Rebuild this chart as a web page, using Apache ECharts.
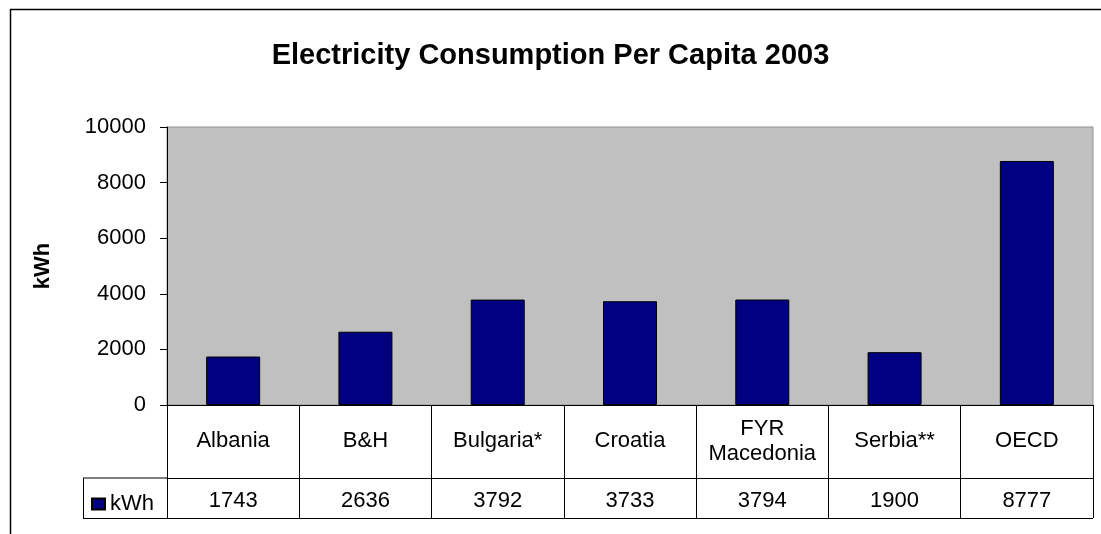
<!DOCTYPE html>
<html>
<head>
<meta charset="utf-8">
<script src="https://cdn.jsdelivr.net/npm/echarts@6/dist/echarts.min.js"></script>
<style>
  html, body { margin: 0; padding: 0; background: #fff; }
  #chart { width: 1101px; height: 534px; }
</style>
</head>
<body>
<div id="chart"></div>
<script>
// data
const countries = ['Albania', 'B&H', 'Bulgaria*', 'Croatia', 'FYR\nMacedonia', 'Serbia**', 'OECD'];
const kwh = [1743, 2636, 3792, 3733, 3794, 1900, 8777];
const yTicks = [0, 2000, 4000, 6000, 8000, 10000];

const font = 'Liberation Sans, Arial, sans-serif';
const chart = echarts.init(document.getElementById('chart'));

const option = {
    backgroundColor: '#fff',
    animation: false,
    title: {
        text: 'Electricity Consumption Per Capita 2003',
        left: 'center',
        top: 36,
        textStyle: { fontFamily: font, fontSize: 29, fontWeight: 'bold', color: '#000' }
    },
    legend: {
        data: ['kWh'],
        left: 86,
        top: 488,
        icon: 'rect',
        itemWidth: 13,
        itemHeight: 11,
        itemGap: 8,
        textStyle: { fontFamily: font, fontSize: 22, color: '#000' }
    },
    grid: {
        left: 167,
        right: 8,
        top: 127,
        bottom: 129,
        show: true,
        backgroundColor: '#C0C0C0',
        borderColor: '#909090',
        borderWidth: 1
    },
    xAxis: [
        {
            type: 'category',
            data: countries,
            axisLine: { lineStyle: { color: '#000', width: 1 } },
            axisTick: { show: true, length: 113, interval: 0, lineStyle: { color: '#000' } },
            axisLabel: {
                interval: 0,
                margin: 36,
                verticalAlign: 'middle',
                lineHeight: 25,
                fontFamily: font,
                fontSize: 22,
                color: '#000'
            }
        },
        {
            type: 'category',
            data: countries,
            position: 'bottom',
            offset: 73,
            axisLine: { show: true, lineStyle: { color: '#000', width: 1 } },
            axisTick: { show: false },
            axisLabel: {
                interval: 0,
                margin: 23,
                verticalAlign: 'middle',
                fontFamily: font,
                fontSize: 22,
                color: '#000',
                formatter: (v, i) => String(kwh[i])
            }
        }
    ],
    yAxis: {
        type: 'value',
        min: yTicks[0],
        max: yTicks[yTicks.length - 1],
        interval: 2000,
        name: 'kWh',
        nameLocation: 'middle',
        nameGap: 113,
        nameTextStyle: { fontFamily: font, fontSize: 22, fontWeight: 'bold', color: '#000' },
        axisLine: { show: true, lineStyle: { color: '#000' } },
        axisTick: { show: true, length: 7, lineStyle: { color: '#000' } },
        axisLabel: { margin: 21, fontFamily: font, fontSize: 22, color: '#000', formatter: v => String(v) },
        splitLine: { show: false }
    },
    series: [{
        name: 'kWh',
        type: 'bar',
        xAxisIndex: 0,
        data: kwh,
        barWidth: 54,
        itemStyle: { color: '#000080', borderColor: '#000', borderWidth: 1 }
    }],
    graphic: [
        // outer frame (left and top edges only visible)
        { type: 'line', shape: { x1: 10.5, y1: 9, x2: 10.5, y2: 534 }, style: { stroke: '#000', lineWidth: 1.5 } },
        { type: 'line', shape: { x1: 10, y1: 9.5, x2: 1101, y2: 9.5 }, style: { stroke: '#000', lineWidth: 1.5 } },
        // data table edges
        { type: 'line', shape: { x1: 83, y1: 478, x2: 167, y2: 478 }, style: { stroke: '#000', lineWidth: 1 } },
        { type: 'line', shape: { x1: 83, y1: 518.5, x2: 1093, y2: 518.5 }, style: { stroke: '#000', lineWidth: 1 } },
        { type: 'line', shape: { x1: 83.5, y1: 478, x2: 83.5, y2: 518.5 }, style: { stroke: '#000', lineWidth: 1 } }
    ]
};

chart.setOption(option);
</script>
</body>
</html>
